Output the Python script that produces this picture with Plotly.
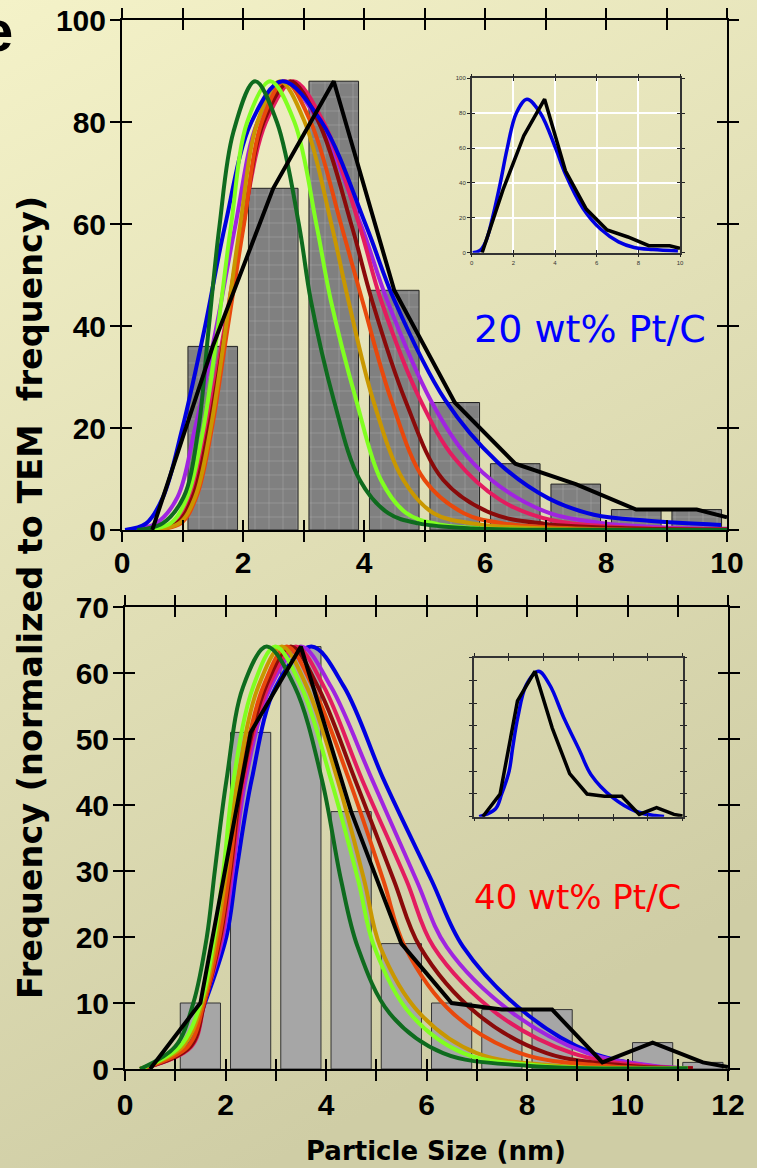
import base64
import plotly.graph_objects as go

# ---------------- data: top panel (20 wt% Pt/C) ----------------
top_bar_x = [1.5, 2.5, 3.5, 4.5, 5.5, 6.5, 7.5, 8.5, 9.5]
top_bar_y = [36, 67, 88, 47, 25, 13, 9, 4, 4]

top_black_x = [0.5, 1.5, 2.5, 3.5, 4.5, 5.5, 6.5, 7.5, 8.5, 9.5, 10]
top_black_y = [0, 36, 67, 88, 47, 25, 13, 9, 4, 4, 2.5]

top_blue_x = [0.05, 0.4, 0.68, 0.99, 1.36, 1.70, 2.14, 2.65, 3.3, 4.04, 4.5, 5.34, 6.2, 7.05, 7.8, 8.7, 9.9]
top_blue_y = [0, 1.3, 6.5, 19.6, 39.2, 59.5, 80, 88, 80, 59.5, 45.1, 25.5, 13.4, 6.2, 3.0, 1.8, 1.0]

top_dgreen_x = [0.25, 0.67, 1.02, 1.26, 1.42, 1.61, 1.84, 2.2, 2.56, 2.93, 3.12, 3.5, 3.93, 4.4, 4.9, 5.8, 7.5, 10]
top_dgreen_y = [0, 1.3, 6.5, 19.6, 38, 59.5, 78, 88, 80, 59.5, 45.1, 25.5, 9.8, 3.3, 1.3, 0.3, 0.05, 0]

top_lgreen_x = [0.3, 0.8, 1.08, 1.34, 1.58, 1.80, 2.07, 2.45, 2.85, 3.22, 3.45, 3.87, 4.28, 4.7, 5.2, 6.0, 10]
top_lgreen_y = [0, 1.3, 6.5, 19.6, 39.2, 59.5, 80, 88, 80, 59.5, 45.1, 25.5, 9.8, 3.3, 1.2, 0.3, 0]

top_gold_x = [0.4, 0.94, 1.21, 1.46, 1.71, 1.95, 2.24, 2.61, 3.02, 3.47, 3.74, 4.15, 4.65, 5.15, 5.85, 7.0, 10]
top_gold_y = [0, 1.3, 6.5, 19.6, 39.2, 59.5, 80, 88, 80, 59.5, 45.1, 25.5, 9.8, 3.3, 1.2, 0.3, 0]

top_orange_x = [0.45, 0.97, 1.23, 1.48, 1.74, 2.01, 2.31, 2.69, 3.12, 3.63, 3.97, 4.45, 5.0, 5.65, 6.3, 7.5, 10]
top_orange_y = [0, 1.3, 6.5, 19.6, 39.2, 59.5, 80, 88, 80, 59.5, 45.1, 25.5, 9.8, 3.3, 1.3, 0.3, 0]

top_dred_x = [0.35, 0.9, 1.17, 1.43, 1.71, 2.0, 2.34, 2.78, 3.25, 3.80, 4.13, 4.68, 5.31, 6.1, 7.0, 8.5, 10]
top_dred_y = [0, 1.3, 6.5, 19.6, 39.2, 59.5, 80, 88, 80, 59.5, 45.1, 25.5, 9.8, 3.3, 1.2, 0.3, 0.1]

top_crimson_x = [0.3, 0.85, 1.13, 1.39, 1.69, 1.99, 2.38, 2.83, 3.33, 3.93, 4.28, 4.93, 5.5, 6.25, 7.07, 8.2, 10]
top_crimson_y = [0, 1.3, 6.5, 19.6, 39.2, 59.5, 80, 88, 80, 59.5, 45.1, 25.5, 14, 5.9, 2.0, 0.6, 0.15]

top_purple_x = [0.1, 0.56, 0.92, 1.2, 1.55, 1.87, 2.24, 2.68, 3.25, 3.96, 4.38, 5.1, 5.7, 6.25, 7.07, 7.9, 9.0, 10]
top_purple_y = [0, 1.3, 6.5, 19.6, 39.2, 59.5, 80, 88, 80, 59.5, 45.1, 25.5, 14.5, 8.5, 3.3, 1.4, 0.5, 0.25]

# ---------------- data: bottom panel (40 wt% Pt/C) ----------------
bot_bar_x = [1.5, 2.5, 3.5, 4.5, 5.5, 6.5, 7.5, 8.5, 10.5, 11.5]
bot_bar_y = [10, 51, 64, 39, 19, 10, 9, 9, 4, 1]

bot_black_x = [0.5, 1.5, 2.5, 3.5, 4.5, 5.5, 6.5, 7.5, 8.5, 9.5, 10.5, 11.5, 12]
bot_black_y = [0, 10, 51, 64, 39, 19, 10, 9, 9, 1, 4, 1, 0.3]

bot_levels_y = [0, 3.4, 10, 20.1, 30.2, 43.8, 57.9, 64, 57.9, 43.8, 28.6, 18.5, 8.4, 2.4, 0.5, 0.1]

bot_dgreen_x = [0.3, 1.0, 1.36, 1.63, 1.79, 2.02, 2.35, 2.82, 3.38, 3.92, 4.3, 4.63, 5.27, 6.33, 8.0, 11.2]
bot_lgreen_x = [0.3, 1.09, 1.51, 1.78, 1.96, 2.16, 2.55, 2.99, 3.51, 4.1, 4.64, 4.96, 5.67, 6.73, 8.3, 11.2]
bot_gold_x = [0.3, 1.15, 1.54, 1.82, 2.02, 2.24, 2.65, 3.12, 3.62, 4.23, 4.76, 5.08, 5.87, 7.0, 8.6, 11.2]
bot_orange_x = [0.3, 1.25, 1.57, 1.88, 2.08, 2.3, 2.75, 3.22, 3.74, 4.46, 5.14, 5.57, 6.53, 7.86, 9.5, 11.2]
bot_dred_x = [0.3, 1.3, 1.58, 1.9, 2.1, 2.33, 2.8, 3.3, 3.84, 4.58, 5.35, 5.87, 7.0, 8.39, 10.0, 11.3]
bot_crimson_x = [0.3, 1.32, 1.58, 1.92, 2.12, 2.36, 2.85, 3.4, 3.96, 4.72, 5.6, 6.14, 7.4, 8.9, 10.3, 11.3]
bot_purple_x = [0.3, 1.3, 1.57, 1.95, 2.15, 2.4, 2.9, 3.5, 4.1, 4.92, 5.8, 6.40, 7.73, 9.2, 10.5, 11.3]
bot_blue_x = [0.3, 1.23, 1.59, 2.02, 2.22, 2.52, 3.0, 3.71, 4.36, 5.15, 6.1, 6.73, 7.98, 9.3, 10.4, 10.93]

# ---------------- tick labels ----------------
top_xticks = list(range(0, 11))
top_xlabels = ["0", "", "2", "", "4", "", "6", "", "8", "", "10"]
top_yticks = [0, 20, 40, 60, 80, 100]
bot_xticks = list(range(0, 13))
bot_xlabels = ["0", "", "2", "", "4", "", "6", "", "8", "", "10", "", "12"]
bot_yticks = [0, 10, 20, 30, 40, 50, 60, 70]
inset_top_xticks = [0, 2, 4, 6, 8, 10]
inset_top_yticks = [0, 20, 40, 60, 80, 100]
inset_bot_xticks = [0, 2, 4, 6, 8, 10, 12]
inset_bot_yticks = [0, 10, 20, 30, 40, 50, 60, 70]

C_DGREEN = "#0E6B1E"
C_LGREEN = "#80FF20"
C_GOLD = "#C99700"
C_ORANGE = "#E8480C"
C_DRED = "#8A0A0A"
C_CRIMSON = "#E31C5F"
C_PURPLE = "#A024E0"
C_BLUE = "#0000E0"

W, H = 757, 1168
WIDE = "DejaVu Sans"
ARIAL = "Liberation Sans, Arial"


def px_x(p):
    return p / W


def px_y(p):
    return 1 - p / H


fig = go.Figure()


def curve(x, y, color, xa, ya, width=4):
    fig.add_trace(go.Scatter(x=x, y=y, mode="lines", xaxis=xa, yaxis=ya,
                             line=dict(color=color, width=width, shape="spline", smoothing=1.0),
                             showlegend=False, hoverinfo="skip"))


def poly(x, y, xa, ya, width=4):
    fig.add_trace(go.Scatter(x=x, y=y, mode="lines", xaxis=xa, yaxis=ya,
                             line=dict(color="black", width=width),
                             showlegend=False, hoverinfo="skip"))


# top bars (checkered)
fig.add_trace(go.Bar(x=top_bar_x, y=top_bar_y, width=0.82, xaxis="x", yaxis="y",
                     marker=dict(color="#808080", line=dict(color="#222", width=1),
                                 pattern=dict(shape="+", fgcolor="rgba(255,255,255,0.45)",
                                              bgcolor="#808080", size=14, solidity=0.05,
                                              fillmode="replace")),
                     showlegend=False, hoverinfo="skip"))
top_curves = [(top_purple_x, top_purple_y, C_PURPLE), (top_crimson_x, top_crimson_y, C_CRIMSON),
              (top_dred_x, top_dred_y, C_DRED), (top_orange_x, top_orange_y, C_ORANGE),
              (top_gold_x, top_gold_y, C_GOLD), (top_blue_x, top_blue_y, C_BLUE),
              (top_lgreen_x, top_lgreen_y, C_LGREEN), (top_dgreen_x, top_dgreen_y, C_DGREEN)]
for cx, cy, cc in top_curves:
    curve(cx, cy, cc, "x", "y")
poly(top_black_x, top_black_y, "x", "y")

# bottom bars
fig.add_trace(go.Bar(x=bot_bar_x, y=bot_bar_y, width=0.8, xaxis="x3", yaxis="y3",
                     marker=dict(color="#a6a6a6", line=dict(color="#333", width=1)),
                     showlegend=False, hoverinfo="skip"))
bot_curves = [(bot_blue_x, C_BLUE), (bot_purple_x, C_PURPLE), (bot_crimson_x, C_CRIMSON),
              (bot_dred_x, C_DRED), (bot_orange_x, C_ORANGE), (bot_gold_x, C_GOLD),
              (bot_lgreen_x, C_LGREEN), (bot_dgreen_x, C_DGREEN)]
for cx, cc in bot_curves:
    curve(cx, bot_levels_y, cc, "x3", "y3")
poly(bot_black_x, bot_black_y, "x3", "y3")

# insets
curve(top_blue_x, top_blue_y, C_BLUE, "x5", "y5", width=3.5)
poly(top_black_x, top_black_y, "x5", "y5", width=3.5)
curve(bot_blue_x, bot_levels_y, C_BLUE, "x7", "y7", width=3.5)
poly(bot_black_x, bot_black_y, "x7", "y7", width=3.5)

# dummy traces so overlay axes exist
for xa, ya in [("x2", "y2"), ("x4", "y4"), ("x6", "y6"), ("x8", "y8")]:
    fig.add_trace(go.Scatter(x=[None], y=[None], xaxis=xa, yaxis=ya, showlegend=False,
                             hoverinfo="skip", mode="lines"))

tickfont = dict(family=ARIAL, size=30, color="black", weight="bold")


def main_axes(xdom, ydom, xr, yr, xt, xl, yt, xid, yid, xstand):
    base = dict(ticklen=10, tickwidth=1.5, tickcolor="black", showgrid=False, zeroline=False,
                automargin=False)
    xa = dict(domain=xdom, range=xr, tickvals=xt, ticktext=xl, ticks="outside",
              showline=True, linecolor="black", linewidth=2, mirror="ticks",
              tickfont=tickfont, anchor=yid, ticklabelstandoff=xstand, **base)
    ya = dict(domain=ydom, range=yr, tickvals=yt, ticks="outside",
              showline=True, linecolor="black", linewidth=2, mirror="ticks",
              tickfont=tickfont, anchor=xid, ticklabelstandoff=-2, **base)
    oxa = dict(overlaying=xid, anchor=yid, range=xr, tickvals=xt, ticks="inside",
               showline=False, mirror="ticks", showticklabels=False, **base)
    oya = dict(overlaying=yid, anchor=xid, range=yr, tickvals=yt, ticks="inside",
               showline=False, mirror="ticks", showticklabels=False, **base)
    return xa, ya, oxa, oya


txa, tya, toxa, toya = main_axes([px_x(122), px_x(727)], [px_y(530), px_y(20)], [0, 10], [0, 100],
                                 top_xticks, top_xlabels, top_yticks, "x", "y", -5)
bxa, bya, boxa, boya = main_axes([px_x(125), px_x(728)], [px_y(1069), px_y(607)], [0, 12], [0, 70],
                                 bot_xticks, bot_xlabels, bot_yticks, "x3", "y3", -2)

inset_font = dict(family=ARIAL, size=6, color="#333")


def inset_axes(xdom, ydom, xr, yr, xt, yt, xid, yid, labels, grid):
    common = dict(ticklen=3, tickwidth=1.2, tickcolor="#222", showline=True, linecolor="#333",
                  linewidth=1.5, mirror="ticks", zeroline=False, showticklabels=labels,
                  tickfont=inset_font, showgrid=grid, gridcolor="white", gridwidth=1.5,
                  automargin=False)
    xa = dict(domain=xdom, range=xr, tickvals=xt, ticks="outside", anchor=yid, **common)
    ya = dict(domain=ydom, range=yr, tickvals=yt, ticks="outside", anchor=xid, **common)
    ocommon = dict(ticks="inside", ticklen=3, tickwidth=1.2, tickcolor="#222", showline=False,
                   mirror="ticks", showticklabels=False, showgrid=False, zeroline=False,
                   automargin=False)
    oxa = dict(overlaying=xid, anchor=yid, range=xr, tickvals=xt, **ocommon)
    oya = dict(overlaying=yid, anchor=xid, range=yr, tickvals=yt, **ocommon)
    return xa, ya, oxa, oya


i1xa, i1ya, i1oxa, i1oya = inset_axes([px_x(471.7), px_x(680)], [px_y(252.7), px_y(78.3)], [0, 10], [0, 100],
                                      inset_top_xticks, inset_top_yticks, "x5", "y5", True, True)
i2xa, i2ya, i2oxa, i2oya = inset_axes([px_x(474), px_x(682.7)], [px_y(816.7), px_y(657.7)], [0, 12], [0, 70],
                                      inset_bot_xticks, inset_bot_yticks, "x7", "y7", False, False)

svg = ('<svg xmlns="http://www.w3.org/2000/svg" width="757" height="1168">'
       '<defs><linearGradient id="g" x1="0" y1="0" x2="0.35" y2="1">'
       '<stop offset="0" stop-color="#F4F2C8"/><stop offset="1" stop-color="#CFCDA5"/>'
       '</linearGradient></defs><rect width="757" height="1168" fill="url(#g)"/></svg>')
bg_src = "data:image/svg+xml;base64," + base64.b64encode(svg.encode()).decode()


def note(text, x, y, size, color="black", bold=False, family=WIDE, angle=0, xanchor="center"):
    f = dict(family=family, size=size, color=color)
    if bold:
        f["weight"] = "bold"
    return dict(text=text, x=px_x(x), y=px_y(y), xref="paper", yref="paper", showarrow=False,
                xanchor=xanchor, yanchor="middle", textangle=angle, font=f)


fig.update_layout(
    width=W, height=H, autosize=False, margin=dict(l=0, r=0, t=0, b=0, pad=0),
    paper_bgcolor="#E5E3BA", plot_bgcolor="rgba(0,0,0,0)",
    barmode="overlay", showlegend=False,
    xaxis=txa, yaxis=tya, xaxis2=toxa, yaxis2=toya,
    xaxis3=bxa, yaxis3=bya, xaxis4=boxa, yaxis4=boya,
    xaxis5=i1xa, yaxis5=i1ya, xaxis6=i1oxa, yaxis6=i1oya,
    xaxis7=i2xa, yaxis7=i2ya, xaxis8=i2oxa, yaxis8=i2oya,
    images=[dict(source=bg_src, xref="paper", yref="paper", x=0, y=1, sizex=1, sizey=1,
                 sizing="stretch", xanchor="left", yanchor="top", layer="below")],
    annotations=[
        note("20 wt% Pt/C", 590, 329, 38, color="#0000FF"),
        note("40 wt% Pt/C", 577, 897, 34, color="#FF0000"),
        note("e", 15, 30, 58, bold=True, family=ARIAL, xanchor="right"),
        note("Particle Size (nm)", 436, 1151, 26, bold=True),
        note("Frequency (normalized to TEM  frequency)", 30, 598, 33.5, bold=True, angle=-90),
    ],
)

fig.write_html("out.html", config={"responsive": False, "displayModeBar": False},
               post_script="document.body.style.margin='0';document.body.style.padding='0';"
                           "document.body.style.overflow='hidden';")
